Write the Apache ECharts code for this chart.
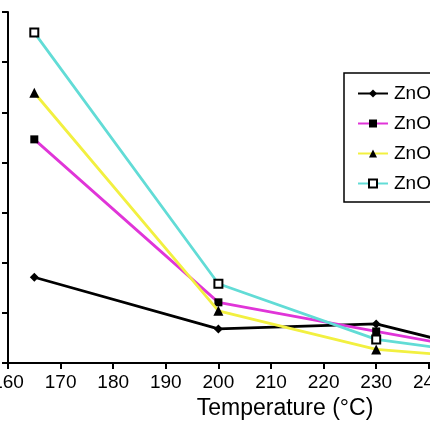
<!DOCTYPE html>
<html><head><meta charset="utf-8">
<script src="https://cdn.jsdelivr.net/npm/echarts@6/dist/echarts.min.js"></script>
<style>html,body{margin:0;padding:0;background:#fff}#c{width:430px;height:430px}</style>
</head><body><div id="c"></div>
<script>
const temperatures = [165, 200, 230, 250];
const seriesNames = ['ZnO-1', 'ZnO-2', 'ZnO-3', 'ZnO-4'];
const s1 = [1.71, 0.68, 0.78, 0.26];
const s2 = [4.46, 1.21, 0.63, 0.25];
const s3 = [5.39, 1.04, 0.27, 0.11];
const s4 = [6.59, 1.58, 0.47, 0.19];
const xTicks = [160, 170, 180, 190, 200, 210, 220, 230, 240, 250, 260];

const font = 'Liberation Sans, Arial, Helvetica, sans-serif';
const lineColors = ['#000000', '#e035d8', '#f2f040', '#62dcd6'];
const symbols = ['diamond', 'rect', 'triangle', 'rect'];
const symbolSizes = [9, 8, 10, 8];
const values = [s1, s2, s3, s4];

const chart = echarts.init(document.getElementById('c'), null, {renderer: 'canvas'});
chart.setOption({
  animation: false,
  backgroundColor: '#fff',
  grid: {left: 8, width: 526, top: 12, bottom: 67, containLabel: false, outerBoundsMode: 'none'},
  xAxis: {
    type: 'value', min: xTicks[0], max: xTicks[xTicks.length - 1], interval: 10,
    name: 'Temperature (°C)', nameLocation: 'middle', nameGap: 32,
    nameTextStyle: {fontFamily: font, fontSize: 23, color: '#000', padding: [0, 0, 0, 28]},
    axisLine: {lineStyle: {color: '#000', width: 2}},
    axisTick: {show: true, length: 6, inside: false, lineStyle: {color: '#000', width: 2}},
    axisLabel: {fontFamily: font, fontSize: 19, color: '#000', margin: 10},
    splitLine: {show: false}
  },
  yAxis: {
    type: 'value', min: 0, max: 7, interval: 1,
    axisLine: {show: true, lineStyle: {color: '#000', width: 2}},
    axisTick: {show: true, length: 6, lineStyle: {color: '#000', width: 2}},
    axisLabel: {show: false},
    splitLine: {show: false}
  },
  legend: {
    left: 344, top: 73, orient: 'vertical',
    padding: [11, 20, 9, 13], itemGap: 11,
    itemWidth: 30, itemHeight: 10,
    borderColor: '#000', borderWidth: 1.5,
    textStyle: {fontFamily: font, fontSize: 19, color: '#000', padding: [0, 0, 0, 1]},
    data: seriesNames
  },
  series: values.map((v, i) => ({
    name: seriesNames[i], type: 'line',
    data: temperatures.map((t, j) => [t, v[j]]),
    symbol: symbols[i], symbolSize: symbolSizes[i], showSymbol: true,
    lineStyle: {color: lineColors[i], width: 2.8},
    itemStyle: i === 3 ? {color: '#fff', borderColor: '#000', borderWidth: 2} : {color: '#000'},
    z: 2 + i
  }))
});
</script></body></html>
